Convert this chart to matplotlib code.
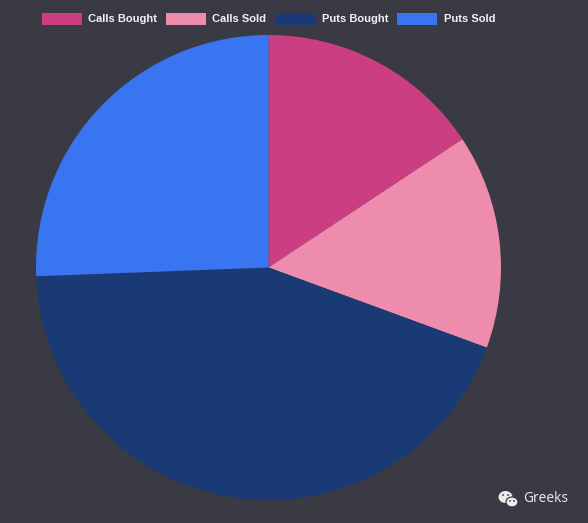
import matplotlib
matplotlib.use("Agg")
import matplotlib.pyplot as plt
from matplotlib.patches import Rectangle, Circle, Ellipse

labels = ["Calls Bought", "Calls Sold", "Puts Bought", "Puts Sold"]
values = [15.7, 14.9, 43.8, 25.6]
colors = ["#cb3f82", "#ee8cae", "#1a3a75", "#3975f0"]
legend_x = [42, 166, 276, 397]
legend_text_x = [88, 212.5, 322.5, 443.5]

bg = "#3a3a45"
mark = "#ececec"

fig = plt.figure(figsize=(5.88, 5.23), dpi=100, facecolor=bg)

# single axes in pixel coords, y going down
ax = fig.add_axes([0, 0, 1, 1])

# y axis is flipped so counterclock=True runs clockwise on screen
ax.pie(values, colors=colors, center=(268.5, 267.5), radius=232.5, startangle=-90,
       counterclock=True, frame=True, wedgeprops={"linewidth": 0})
ax.set_xlim(0, 588)
ax.set_ylim(523, 0)
ax.axis("off")

for i in range(len(labels)):
    ax.add_patch(Rectangle((legend_x[i], 13), 40, 12, facecolor=colors[i], edgecolor="none"))
    ax.text(legend_text_x[i], 18.5, labels[i], color="#f2f2f2", fontsize=8.05, fontweight="bold",
            family="Liberation Sans", va="center", ha="left")

# watermark, wechat style bubbles
ax.add_patch(Ellipse((505.5, 497), 14, 12, facecolor=mark, edgecolor="none"))
ax.add_patch(Ellipse((512, 502), 12, 10, facecolor=mark, edgecolor=bg, linewidth=0.9))
for ex, ey in [(503, 495), (508, 495), (510, 501), (514, 501)]:
    ax.add_patch(Circle((ex, ey), 0.9, facecolor=bg, edgecolor="none"))
ax.text(523, 499, "Greeks", color="#e6e6e6", fontsize=9.9, family="Noto Sans", va="center", ha="left")

fig.savefig("out.png", dpi=100, facecolor=bg)
